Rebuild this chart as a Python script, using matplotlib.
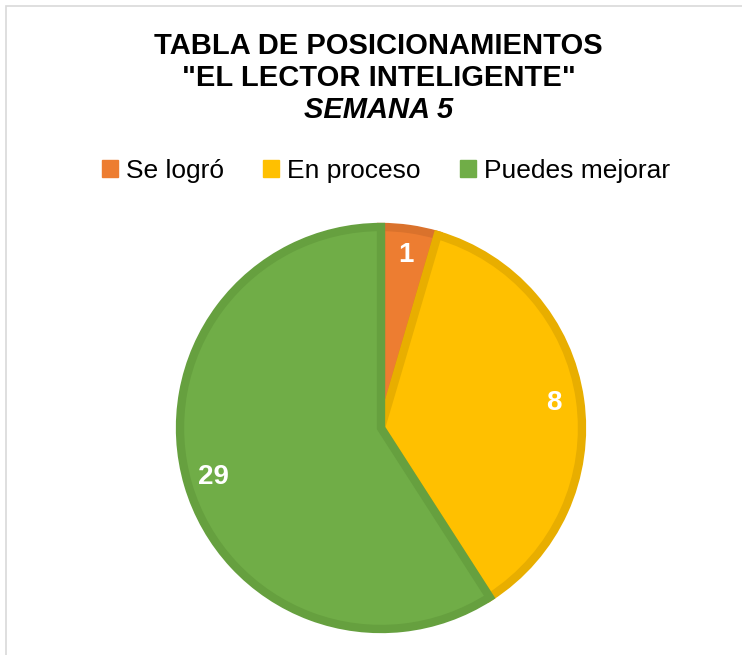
import matplotlib.pyplot as plt
from matplotlib.patches import Patch, Rectangle

plt.rcParams['font.family'] = ['Liberation Sans', 'DejaVu Sans']

# Categories and slice sizes (as drawn) plus the data labels shown on the chart
categories = ["Se logró", "En proceso", "Puedes mejorar"]
sizes = [1, 8, 13]
shown_labels = ["1", "8", "29"]
colors = ["#ED7D31", "#FFC000", "#70AD47"]
edge_colors = ["#DA722C", "#E8AE00", "#66A03F"]

fig = plt.figure(figsize=(7.42, 6.55), dpi=100)

# light frame around the chart area
fig.patches.append(Rectangle((6 / 742, -0.1), 1.2, 1.1 - 6 / 655,
                             transform=fig.transFigure, fill=False,
                             edgecolor="#D9D9D9", linewidth=1.2))

# Pie
cx, cy, r = 381 / 742, 1 - 428 / 655, 201
ax = fig.add_axes([cx - r / 742, cy - r / 655, 2 * r / 742, 2 * r / 655])
wedges, texts = ax.pie(sizes, labels=shown_labels, colors=colors,
                       startangle=90, counterclock=False,
                       labeldistance=0.87,
                       wedgeprops=dict(linewidth=6, joinstyle="miter"),
                       textprops=dict(color="white", fontsize=20,
                                      fontweight="bold", ha="center", va="center"))
for w, ec in zip(wedges, edge_colors):
    w.set_edgecolor(ec)
ax.set_xlim(-1, 1)
ax.set_ylim(-1, 1)
ax.set_aspect("equal")

# Title
fig.text(0.51, 1 - 46 / 655, "TABLA DE POSICIONAMIENTOS", ha="center", va="center",
         fontsize=21, fontweight="bold")
fig.text(0.51, 1 - 78 / 655, "\"EL LECTOR INTELIGENTE\"", ha="center", va="center",
         fontsize=21, fontweight="bold")
fig.text(0.51, 1 - 110 / 655, "SEMANA 5", ha="center", va="center",
         fontsize=21, fontweight="bold", style="italic")

# Legend
handles = [Patch(facecolor=c, edgecolor=c) for c in colors]
fig.legend(handles, categories, loc="center", ncol=3,
           bbox_to_anchor=(0.52, 1 - 171 / 655), frameon=False,
           fontsize=19, handlelength=0.6, handleheight=0.6,
           handletextpad=0.3, columnspacing=1.5)

fig.savefig("out.png", dpi=100)
